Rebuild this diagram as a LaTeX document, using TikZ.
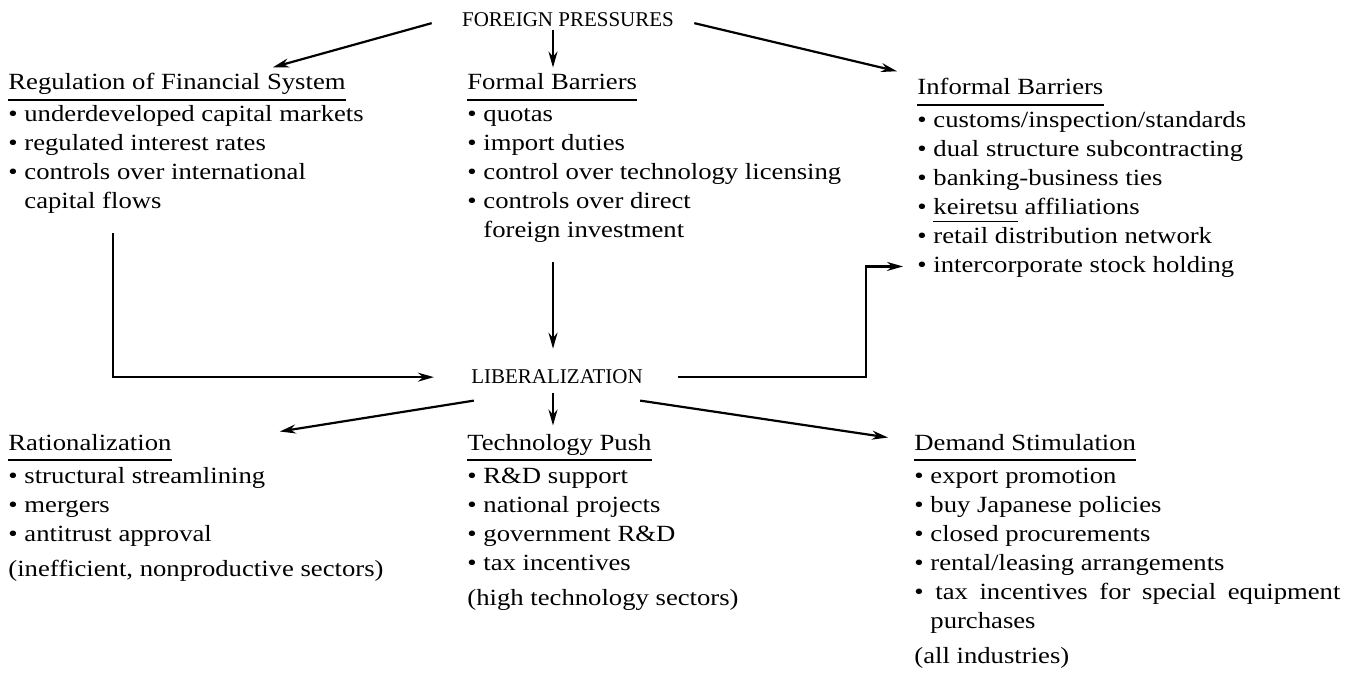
\documentclass[tikz,border=0pt]{standalone}
\usepackage{fontspec}
\setmainfont[FakeStretch=1.15]{Liberation Serif}
\newfontfamily\capsfont{Liberation Serif}
\usetikzlibrary{arrows.meta,calc}
\tikzset{
  head/.style={anchor=base west,inner sep=0pt,font=\fontsize{11.6}{14}\selectfont},
  item/.style={anchor=base west,inner sep=0pt,font=\fontsize{11.6}{14}\selectfont},
  caps/.style={anchor=base,inner sep=0pt,font=\capsfont\fontsize{10.5}{12}\selectfont},
  arr/.style={-{Stealth[length=8pt,width=4.5pt]},line width=1.1pt},
  ulin/.style={line width=0.8pt}
}
\newcommand{\bl}{\textbullet\ }
\newcommand{\ind}{\hphantom{\textbullet\ }}
\begin{document}
\begin{tikzpicture}[x=0.5pt,y=-0.5pt]
      \useasboundingbox (0,0) rectangle (1352,680);
      \draw
        (568,26) node[caps] (fp){FOREIGN PRESSURES}
        (557,383) node[caps] (lib){LIBERALIZATION}
        (8,89) node[head] (rfs){Regulation of Financial System}
        (8,121) node[item] (rfs1){\bl underdeveloped capital markets}
        (8,150) node[item] (rfs2){\bl regulated interest rates}
        (8,179) node[item] (rfs3){\bl controls over international}
        (8,208) node[item] (rfs4){\ind capital flows}
        (467,89) node[head] (fb){Formal Barriers}
        (467,121) node[item] (fb1){\bl quotas}
        (467,150) node[item] (fb2){\bl import duties}
        (467,179) node[item] (fb3){\bl control over technology licensing}
        (467,208) node[item] (fb4){\bl controls over direct}
        (467,237) node[item] (fb5){\ind foreign investment}
        (917,94) node[head] (ib){Informal Barriers}
        (917,127) node[item] (ib1){\bl customs/inspection/standards}
        (917,156) node[item] (ib2){\bl dual structure subcontracting}
        (917,185) node[item] (ib3){\bl banking-business ties}
        (917,214) node[item] (ib4){\bl\underline{\vphantom{g}keiretsu} affiliations}
        (917,243) node[item] (ib5){\bl retail distribution network}
        (917,272) node[item] (ib6){\bl intercorporate stock holding}
        (8,450) node[head] (rat){Rationalization}
        (8,483) node[item] (rat1){\bl structural streamlining}
        (8,512) node[item] (rat2){\bl mergers}
        (8,541) node[item] (rat3){\bl antitrust approval}
        (8,576) node[item] (rat4){(inefficient, nonproductive sectors)}
        (467,450) node[head] (tp){Technology Push}
        (467,483) node[item] (tp1){\bl R\&D support}
        (467,512) node[item] (tp2){\bl national projects}
        (467,541) node[item] (tp3){\bl government R\&D}
        (467,570) node[item] (tp4){\bl tax incentives}
        (467,605) node[item] (tp5){(high technology sectors)}
        (914,450) node[head] (dem){Demand Stimulation}
        (914,483) node[item] (dem1){\bl export promotion}
        (914,512) node[item] (dem2){\bl buy Japanese policies}
        (914,541) node[item] (dem3){\bl closed procurements}
        (914,570) node[item] (dem4){\bl rental/leasing arrangements}
        (914,599) node[item] (dem5){\makebox[213pt][s]{\bl tax incentives for special equipment}}
        (914,628) node[item] (dem6){\ind purchases}
        (914,663) node[item] (dem7){(all industries)};
      \begin{scope}[ulin]
        \draw ($(rfs.base west)+(0,11)$) -- ($(rfs.base east)+(0,11)$);
        \draw ($(fb.base west)+(0,11)$) -- ($(fb.base east)+(0,11)$);
        \draw ($(ib.base west)+(0,11)$) -- ($(ib.base east)+(0,11)$);
        \draw ($(rat.base west)+(0,10)$) -- ($(rat.base east)+(0,10)$);
        \draw ($(tp.base west)+(0,10)$) -- ($(tp.base east)+(0,10)$);
        \draw ($(dem.base west)+(0,10)$) -- ($(dem.base east)+(0,10)$);
      \end{scope}
      \begin{scope}[arr]
        \draw ($(fp.west)+(-30,4)$) -- ($(rfs.north)+(96,-5)$);
        \draw ($(fp.south)+(-15,3)$) -- ($(fb.north -| fp.south)+(-15,-5)$);
        \draw ($(fp.east)+(20,4)$) -- ($(ib.north west)+(-20,-6)$);
        \draw ($(rfs4.base west)+(105,25)$) |- ($(lib.west)+(-37,1)$);
        \draw ($(fb5.base west)+(86,25)$) -- ($(lib.north)+(-4,-20)$);
        \draw ($(lib.east)+(35,1)$) -- ++(188,0) |- ($(ib6.west)+(-14,0)$);
        \draw ($(lib.south west)+(3,17)$) -- ($(rat.north east)+(108,-2)$);
        \draw ($(lib.south)+(-4,9)$) -- ($(tp.north -| lib.south)+(-4,-8)$);
        \draw ($(lib.south east)+(-3,17)$) -- ($(dem.north west)+(-26,4)$);
      \end{scope}
    \end{tikzpicture}
\end{document}
